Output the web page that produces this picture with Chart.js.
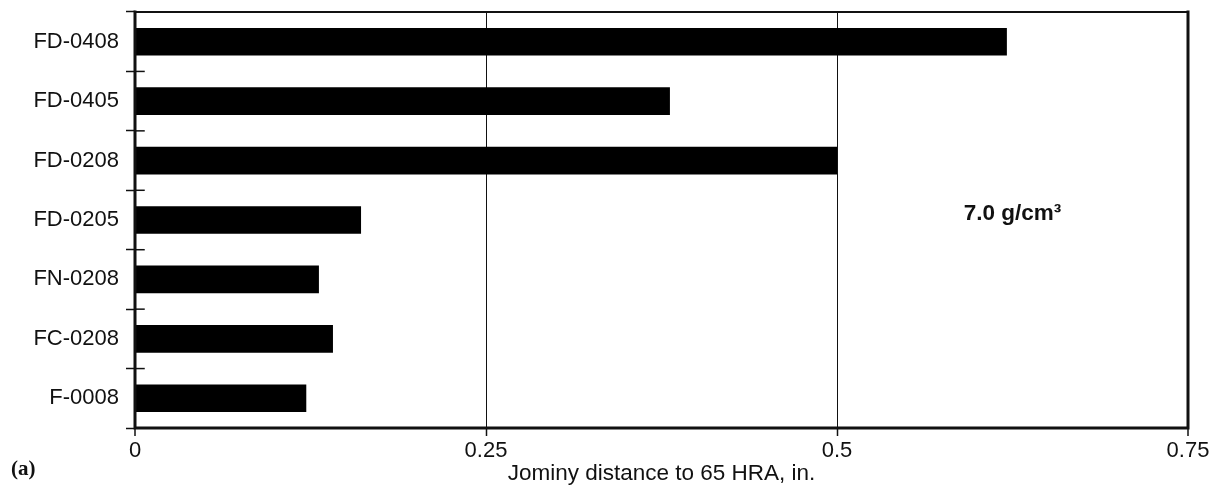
<!DOCTYPE html>
<html>
<head>
<meta charset="utf-8">
<script src="https://cdn.jsdelivr.net/npm/chart.js@4/dist/chart.umd.min.js"></script>
<style>
  html, body { margin: 0; padding: 0; background: #fff; }
  #wrap { width: 1220px; height: 489px; position: relative; }
</style>
</head>
<body>
<div id="wrap"><canvas id="jominyChart"></canvas></div>
<script>
// Powder metallurgy grades (top to bottom)
const categories = ['FD-0408', 'FD-0405', 'FD-0208', 'FD-0205', 'FN-0208', 'FC-0208', 'F-0008'];
// Jominy distance to 65 HRA, in.
const jominyDistance = [0.621, 0.381, 0.5, 0.161, 0.131, 0.141, 0.122];
const xTickValues = [0, 0.25, 0.5, 0.75];
const densityLabel = '7.0 g/cm\u00B3';
const panelLabel = '(a)';
const xTitle = 'Jominy distance to 65 HRA, in.';

const ink = '#111';
const fontFamily = "'Liberation Sans', Arial, Helvetica, sans-serif";

// frame, inner tick stubs and free text
const framePlugin = {
    id: 'frame',
    afterDraw(chart) {
        const { ctx, chartArea: a, scales } = chart;
        const y = scales.y;
        ctx.save();
        ctx.strokeStyle = ink;
        ctx.lineCap = 'square';

        // inner half of the category ticks
        ctx.lineWidth = 1.5;
        for (let i = 0; i <= categories.length; i++) {
            const py = y.getPixelForValue(i - 0.5);
            ctx.beginPath();
            ctx.moveTo(a.left, py);
            ctx.lineTo(a.left + 9, py);
            ctx.stroke();
        }

        // box
        ctx.lineWidth = 2;
        ctx.beginPath();
        ctx.moveTo(a.left, a.top);
        ctx.lineTo(a.right, a.top);
        ctx.stroke();
        ctx.lineWidth = 3;
        ctx.beginPath();
        ctx.moveTo(a.right, a.top);
        ctx.lineTo(a.right, a.bottom);
        ctx.lineTo(a.left, a.bottom);
        ctx.lineTo(a.left, a.top);
        ctx.stroke();

        // annotation
        ctx.fillStyle = ink;
        ctx.textAlign = 'center';
        ctx.textBaseline = 'middle';
        ctx.font = 'bold 22.5px ' + fontFamily;
        ctx.fillText(densityLabel, scales.x.getPixelForValue(0.625), y.getPixelForValue(3) - 6);

        ctx.textAlign = 'left';
        ctx.font = "bold 21px 'Liberation Serif', 'Times New Roman', serif";
        ctx.fillText(panelLabel, 11, 470);
        ctx.restore();
    }
};

new Chart(document.getElementById('jominyChart').getContext('2d'), {
    type: 'bar',
    data: {
        labels: categories,
        datasets: [{
            label: xTitle,
            data: jominyDistance,
            backgroundColor: '#000',
            borderWidth: 0,
            barPercentage: 0.465,
            categoryPercentage: 1
        }]
    },
    options: {
        indexAxis: 'y',
        responsive: true,
        maintainAspectRatio: false,
        animation: false,
        layout: { padding: { left: 0, top: 12, right: 32, bottom: 0 } },
        scales: {
            x: {
                min: 0,
                max: 0.75,
                afterFit(scale) { scale.height = 61; },
                afterBuildTicks(scale) { scale.ticks = xTickValues.map(v => ({ value: v })); },
                ticks: {
                    color: ink,
                    padding: 2,
                    maxRotation: 0,
                    font: { family: fontFamily, size: 22 },
                    callback: v => String(v)
                },
                grid: {
                    color: ink,
                    lineWidth: c => (c.tick && c.tick.value > 0 && c.tick.value < 0.75) ? 1 : 0,
                    drawTicks: true,
                    tickLength: 8,
                    tickWidth: 1.5,
                    tickColor: ink
                },
                border: { display: false },
                title: {
                    display: true,
                    text: xTitle,
                    color: ink,
                    padding: { top: 0, bottom: 2 },
                    font: { family: fontFamily, size: 22.5 }
                }
            },
            y: {
                afterFit(scale) {
                    scale.width = 135;
                    scale.paddingTop = 0;
                    scale.paddingBottom = 0;
                },
                ticks: {
                    color: ink,
                    padding: 7,
                    font: { family: fontFamily, size: 22 }
                },
                grid: {
                    drawOnChartArea: false,
                    drawTicks: true,
                    tickLength: 9,
                    tickWidth: 1.5,
                    tickColor: ink
                },
                border: { display: false }
            }
        },
        plugins: {
            legend: { display: false },
            tooltip: { enabled: false }
        }
    },
    plugins: [framePlugin]
});
</script>
</body>
</html>
